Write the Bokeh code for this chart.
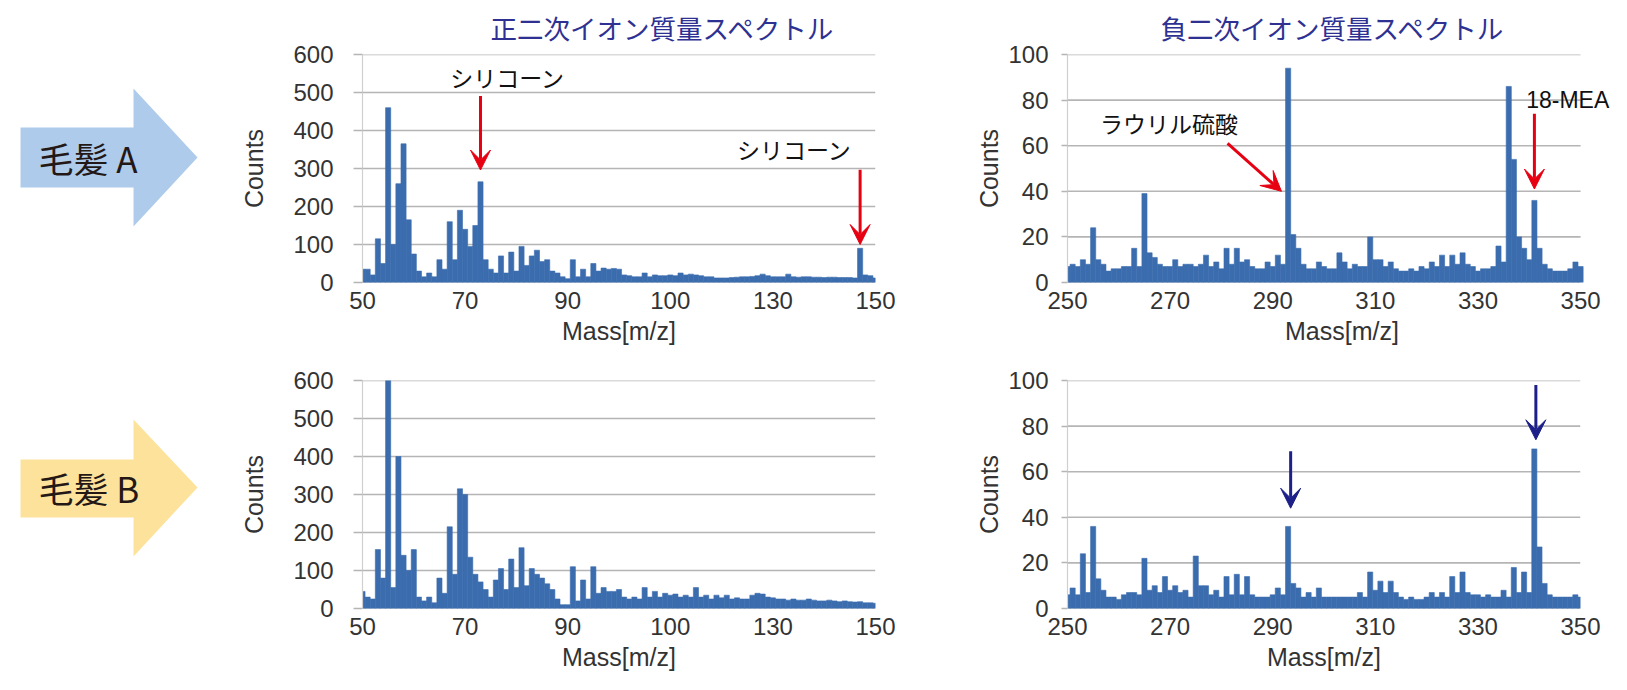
from bokeh.plotting import figure
from bokeh.layouts import row, column
from bokeh.models import Range1d, FixedTicker, Title, Label, Arrow, VeeHead, ColumnDataSource
from bokeh.embed import file_html
from bokeh.resources import INLINE
from bokeh.core.properties import value

# ---------------- data ----------------
mass_pos = list(range(50, 151))
mass_neg = list(range(250, 351))

counts_pos_A = [
    35, 35, 20, 115, 50, 460, 100, 260, 365, 165,
    75, 30, 15, 25, 15, 60, 35, 160, 60, 190,
    140, 95, 150, 265, 60, 35, 25, 70, 25, 80,
    30, 95, 45, 70, 85, 55, 60, 30, 25, 15,
    10, 60, 15, 35, 15, 50, 30, 38, 35, 37,
    35, 20, 18, 15, 15, 25, 15, 20, 18, 18,
    20, 18, 25, 20, 22, 20, 18, 15, 15, 12,
    12, 12, 13, 14, 15, 15, 16, 18, 22, 18,
    15, 15, 15, 22, 15, 14, 15, 15, 14, 14,
    13, 14, 14, 13, 13, 13, 12, 90, 20, 18,
    12]

counts_pos_B = [
    45, 30, 25, 155, 80, 600, 55, 400, 140, 100,
    155, 30, 20, 30, 15, 80, 40, 215, 90, 315,
    300, 135, 90, 70, 50, 30, 75, 105, 50, 130,
    55, 160, 60, 105, 90, 80, 65, 50, 25, 10,
    10, 110, 20, 75, 25, 110, 40, 55, 45, 45,
    50, 30, 25, 30, 25, 55, 30, 45, 30, 40,
    35, 38, 30, 35, 30, 55, 30, 35, 25, 35,
    28, 35, 25, 28, 25, 25, 35, 40, 38, 30,
    28, 25, 25, 22, 25, 22, 22, 25, 22, 20,
    20, 22, 20, 18, 20, 18, 17, 18, 15, 15,
    14]

counts_neg_A = [
    7, 8, 7, 10, 8, 24, 10, 8, 5, 6,
    6, 7, 7, 15, 7, 39, 13, 11, 8, 7,
    7, 10, 7, 8, 8, 7, 8, 12, 7, 9,
    6, 15, 8, 15, 9, 10, 7, 6, 6, 9,
    7, 12, 8, 94, 21, 15, 8, 6, 6, 9,
    7, 6, 6, 13, 9, 6, 8, 7, 7, 20,
    10, 10, 7, 9, 6, 5, 5, 6, 5, 7,
    6, 9, 7, 12, 7, 12, 8, 13, 8, 7,
    5, 6, 6, 7, 16, 9, 86, 54, 20, 15,
    10, 36, 15, 8, 6, 5, 5, 5, 6, 9,
    7]

counts_neg_B = [
    6, 9, 6, 24, 7, 36, 13, 8, 5, 5,
    4, 6, 7, 7, 6, 22, 8, 10, 7, 14,
    8, 10, 7, 8, 5, 23, 10, 10, 6, 8,
    5, 14, 6, 15, 6, 14, 6, 5, 5, 5,
    6, 9, 6, 36, 11, 9, 5, 7, 5, 9,
    5, 5, 5, 5, 5, 5, 5, 7, 5, 16,
    8, 12, 7, 12, 7, 5, 4, 5, 4, 4,
    5, 7, 5, 7, 5, 14, 7, 16, 7, 6,
    6, 5, 6, 5, 5, 8, 5, 18, 7, 16,
    7, 70, 27, 11, 6, 5, 5, 5, 5, 6,
    5]

xticks_pos = [50, 70, 90, 110, 130, 150]
xlabel_override_pos = {110: "100"}
xticks_neg = [250, 270, 290, 310, 330, 350]
yticks_pos = [0, 100, 200, 300, 400, 500, 600]
yticks_neg = [0, 20, 40, 60, 80, 100]

title_pos = "正二次イオン質量スペクトル"
title_neg = "負二次イオン質量スペクトル"
x_label = "Mass[m/z]"
y_label = "Counts"
sample_labels = ["毛髪 A", "毛髪 B"]

# annotations (data coordinates)
note_silicone = "シリコーン"
note_silicone_pos = [(78.3, 540), (134.2, 351)]
arrow_silicone = [(73, 491, 73, 296), (147, 297, 147, 100)]
note_laurylsulfate = "ラウリル硫酸"
note_laurylsulfate_pos = (269.8, 70)
arrow_laurylsulfate = (281.2, 61, 291.7, 40)
note_mea = "18-MEA"
note_mea_pos = (347.5, 80)
arrow_mea = (341, 74, 341, 41)
arrows_B = [(293.5, 69, 293.5, 44), (341.3, 98, 341.3, 74)]

# ---------------- styles ----------------
BAR = "#3b6cae"
GRID = "#b5b5b5"
RED = "#e60012"
NAVY = "#1d2088"
TXT = "#333333"
TITLE_C = "#2e3192"
JP = "Noto Sans CJK JP"
LAT = "Liberation Sans"
PX_PER_UNIT = 5.13


def make_panel(masses, counts, xr, yr, xticks, yticks, overrides,
               bt, bb, bl, br, tick_out, lab_so, axlab_so,
               title=None, title_offset=0, extra_right=0):
    fw = int(round(PX_PER_UNIT * (xr[1] - xr[0] + extra_right)))
    p = figure(frame_width=fw, frame_height=228,
               x_range=Range1d(xr[0], xr[1] + extra_right), y_range=Range1d(*yr),
               output_backend="svg", toolbar_location=None,
               min_border_top=bt, min_border_bottom=bb,
               min_border_left=bl, min_border_right=br)
    p.outline_line_color = None
    p.background_fill_color = "white"
    p.border_fill_color = "white"

    # horizontal grid lines spanning the mass range only
    p.xgrid.grid_line_color = None
    p.ygrid.grid_line_color = None
    p.segment(x0=[xr[0]] * len(yticks), x1=[xr[1]] * len(yticks),
              y0=yticks, y1=yticks, line_color=GRID, line_width=1.6)

    src = ColumnDataSource(dict(m=masses, c=counts))
    p.vbar(x="m", top="c", width=1.0, source=src,
           fill_color=BAR, line_color=BAR, line_width=0.6)

    xa = p.xaxis[0]
    xa.ticker = FixedTicker(ticks=xticks)
    if overrides:
        xa.major_label_overrides = overrides
    xa.axis_line_color = None
    xa.major_tick_line_color = None
    xa.minor_tick_line_color = None
    xa.major_label_standoff = 3
    xa.major_label_text_font = LAT
    xa.major_label_text_font_size = "24px"
    xa.major_label_text_color = TXT
    xa.axis_label = x_label
    xa.axis_label_text_font = LAT
    xa.axis_label_text_font_size = "25px"
    xa.axis_label_text_font_style = "normal"
    xa.axis_label_text_color = TXT
    xa.axis_label_standoff = 5

    ya = p.yaxis[0]
    ya.ticker = FixedTicker(ticks=yticks)
    ya.axis_line_color = "#cfcfcf"
    ya.axis_line_width = 1.2
    ya.major_tick_out = tick_out
    ya.major_tick_in = 0
    ya.major_tick_line_color = GRID
    ya.major_tick_line_width = 1.6
    ya.minor_tick_line_color = None
    ya.major_label_standoff = lab_so
    ya.major_label_text_font = LAT
    ya.major_label_text_font_size = "24px"
    ya.major_label_text_color = TXT
    ya.axis_label = y_label
    ya.axis_label_text_font = LAT
    ya.axis_label_text_font_size = "25px"
    ya.axis_label_text_font_style = "normal"
    ya.axis_label_text_color = TXT
    ya.axis_label_standoff = axlab_so

    if title:
        p.add_layout(Title(text=title, align="left", offset=title_offset,
                           vertical_align="top",
                           text_font=JP, text_font_size="26.5px",
                           text_font_style="normal", text_color=TITLE_C,
                           standoff=12), "above")
    return p


def add_note(p, txt, xy, font, size="23px"):
    p.add_layout(Label(x=xy[0], y=xy[1], text=txt, text_align="center",
                       text_baseline="middle", text_font=font,
                       text_font_size=size, text_color="#111111"))


def add_arrow(p, a, color):
    p.add_layout(Arrow(end=VeeHead(size=20, fill_color=color, line_color=color, line_width=1),
                       x_start=a[0], y_start=a[1], x_end=a[2], y_end=a[3],
                       line_color=color, line_width=3))


# top-left
tl = make_panel(mass_pos, counts_pos_A, (50, 150), (0, 600), xticks_pos, yticks_pos,
                xlabel_override_pos, 54, 80, 132, 55, 9, 20, 22,
                title=title_pos, title_offset=128)
for pos in note_silicone_pos:
    add_note(tl, note_silicone, pos, JP)
for a in arrow_silicone:
    add_arrow(tl, a, RED)

# bottom-left
bl = make_panel(mass_pos, counts_pos_B, (50, 150), (0, 600), xticks_pos, yticks_pos,
                xlabel_override_pos, 18, 80, 132, 55, 9, 20, 22)

# top-right (frame extended a little to the right so the 18-MEA note fits)
tr = make_panel(mass_neg, counts_neg_A, (250, 350), (0, 100), xticks_neg, yticks_neg,
                None, 54, 80, 137, 4, 6, 13, 2,
                title=title_neg, title_offset=93, extra_right=7)
add_note(tr, note_laurylsulfate, note_laurylsulfate_pos, JP)
add_arrow(tr, arrow_laurylsulfate, RED)
add_note(tr, note_mea, note_mea_pos, LAT)
add_arrow(tr, arrow_mea, RED)

# bottom-right
br = make_panel(mass_neg, counts_neg_B, (250, 350), (0, 100), xticks_neg, yticks_neg,
                None, 18, 80, 137, 40, 6, 13, 2)
for a in arrows_B:
    add_arrow(br, a, NAVY)

# left side sample arrows (pixel space)
arrow_shape_x = [20, 133, 133, 197, 133, 133, 20]
arrow_A_y = [127, 127, 88, 157, 226, 187, 187]
arrow_B_y = [459, 459, 419, 487, 556, 517, 517]
arrow_fills = ["#aecbeb", "#fde29c"]
label_y = [157, 487]

pa = figure(width=230, height=688, x_range=Range1d(0, 230), y_range=Range1d(688, 0),
            output_backend="svg", toolbar_location=None, min_border=0,
            x_axis_location=None, y_axis_location=None)
pa.grid.visible = False
pa.outline_line_color = None
pa.patch(arrow_shape_x, arrow_A_y, fill_color=arrow_fills[0], line_color=None)
pa.patch(arrow_shape_x, arrow_B_y, fill_color=arrow_fills[1], line_color=None)
pa.text(x=[38, 38], y=label_y, text=sample_labels, text_font=value(JP),
        text_font_size="35px", text_baseline="middle", text_align="left",
        text_color="#231815")

layout = row(pa, column(tl, bl), column(tr, br))
open("out.html", "w").write(file_html(layout, INLINE))
